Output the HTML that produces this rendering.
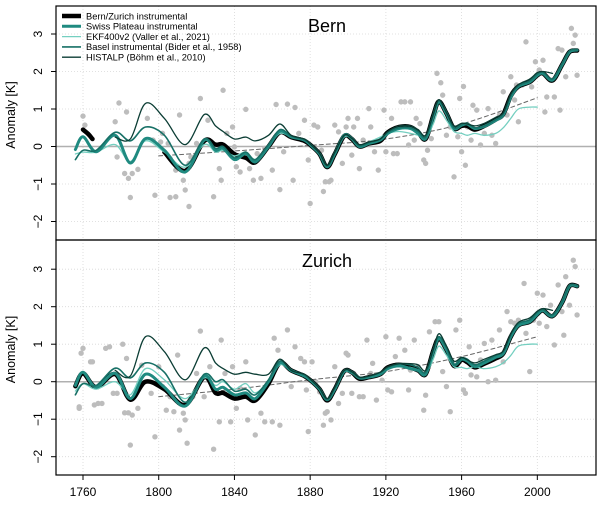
<!DOCTYPE html>
<html><head><meta charset="utf-8"><style>
body{margin:0;background:#fff;}
svg{display:block;font-family:"Liberation Sans",sans-serif;}
</style></head><body>
<svg id="chart" width="600" height="508" viewBox="0 0 600 508"></svg>
<script>
const gridYears=[1756,1760,1767,1777,1785,1793,1803,1814,1824,1830,1834,1840,1846,1851,1858,1864,1870,1877,1881,1885,1889,1893,1898,1902,1906,1911,1917,1921,1927,1933,1937,1941,1945,1948,1952,1956,1960,1963,1967,1972,1978,1982,1986,1990,1996,2000,2003,2008,2013,2017,2021];
const N=null;
// Bern series
const bernSwiss=[-0.08,0.26,-0.14,0.3,-0.44,0.21,-0.1,-0.68,0.17,-0.1,-0.05,-0.35,-0.19,-0.41,0,0.41,0.26,0.17,0,-0.2,-0.54,-0.19,0.3,0.21,0,0.08,0.17,0.35,0.48,0.48,0.35,0.21,0.8,1.19,0.88,0.48,0.57,0.6,0.48,0.54,0.7,0.84,1.32,1.6,1.72,1.9,1.95,1.77,2.17,2.52,2.57];
const bernBasel=[-0.35,-0.1,-0.1,0.38,0.15,0.52,0.3,-0.5,0.2,-0.05,0,-0.3,-0.15,-0.35,0.05,0.45,0.28,0.18,0.02,-0.18,-0.52,-0.17,0.3,0.22,0.02,0.1,0.2,0.38,0.5,0.5,0.4,0.25,0.85,1.22,0.9,0.5,0.58,0.62,0.5,0.55,0.72,0.86,1.35,1.62,1.75,1.93,1.98,1.8,2.2,2.55,2.58];
const bernHistalp=[N,N,N,0.25,0.2,1.15,0.75,0.05,0.85,0.55,0.4,0.2,0.25,0.15,0.3,0.6,0.3,0.2,0.02,-0.18,-0.5,-0.15,0.3,0.22,0.05,0.12,0.2,0.4,0.55,0.55,0.45,0.3,0.85,1.25,0.9,0.55,0.62,0.6,0.55,0.62,0.78,0.9,1.4,1.65,1.8,1.97,2.0,1.95,N,N,N];
const bernEkf=[-0.2,-0.15,-0.15,0.05,-0.4,0.15,-0.15,-0.55,0.05,-0.15,-0.1,-0.25,-0.15,-0.35,0,0.35,0.25,0.15,0,-0.2,-0.52,-0.2,0.25,0.2,0.02,0.12,0.25,0.35,0.4,0.35,0.3,0.2,0.6,0.95,0.7,0.4,0.35,0.3,0.35,0.3,0.35,0.5,0.75,1.0,1.05,1.05,N,N,N,N,N];
const bernBlack=[N,N,N,N,N,N,-0.15,-0.65,0.15,0.05,0.05,-0.2,-0.3,-0.42,0,0.38,0.25,0.15,0,-0.2,-0.55,-0.2,0.28,0.2,0,0.08,0.15,0.38,0.52,0.52,0.38,0.2,0.82,1.2,0.88,0.48,0.55,0.55,0.45,0.55,0.72,0.86,1.35,1.6,1.72,1.9,1.95,1.76,2.17,2.52,2.56];
const bernBlackEarlyYears=[1760,1763,1765];
const bernBlackEarly=[0.45,0.32,0.2];
const trendYears=[1800,1840,1880,1920,1960,2000];
const bernTrend=[-0.25,-0.12,0.03,0.2,0.6,1.3];
// Zurich series
const zurSwiss=[-0.1,0.25,-0.15,0.22,-0.45,0.2,-0.15,-0.65,0.15,-0.2,-0.15,-0.35,-0.3,-0.45,0,0.5,0.3,0.15,0,-0.2,-0.48,-0.2,0.28,0.25,0.1,0.12,0.2,0.35,0.42,0.35,0.3,0.2,0.8,1.15,0.85,0.45,0.6,0.55,0.4,0.5,0.65,0.75,1.2,1.5,1.6,1.8,1.9,1.75,2.1,2.55,2.55];
const zurBasel=[-0.35,-0.05,-0.1,0.36,0.1,0.5,0.25,-0.55,0.2,0.0,0.05,-0.25,-0.2,-0.35,0.05,0.55,0.32,0.18,0.02,-0.18,-0.48,-0.17,0.3,0.25,0.1,0.14,0.25,0.38,0.48,0.45,0.38,0.25,0.85,1.2,0.9,0.45,0.62,0.6,0.45,0.55,0.7,0.8,1.25,1.55,1.65,1.85,1.92,1.78,2.12,2.57,2.56];
const zurHistalp=[N,N,N,0.3,0.15,1.2,0.8,0.05,0.9,0.5,0.35,0.2,0.25,0.2,0.2,0.6,0.3,0.2,0.02,-0.18,-0.45,-0.15,0.3,0.27,0.12,0.15,0.25,0.4,0.48,0.48,0.45,0.3,0.85,1.28,0.95,0.55,0.65,0.58,0.5,0.6,0.72,0.82,1.28,1.58,1.7,1.88,1.95,1.9,N,N,N];
const zurEkf=[-0.25,-0.05,-0.2,0.0,-0.35,0.35,0.05,-0.45,0.1,-0.1,0.0,-0.2,-0.05,-0.3,0.0,0.45,0.28,0.15,0.0,-0.2,-0.48,-0.2,0.25,0.22,0.08,0.14,0.22,0.35,0.4,0.38,0.32,0.2,0.6,0.95,0.7,0.4,0.38,0.35,0.4,0.35,0.4,0.5,0.7,0.95,1.0,1.0,N,N,N,N,N];
const zurBlack=[-0.12,0.22,-0.15,0.2,-0.48,0.0,-0.2,-0.62,0.12,-0.3,-0.3,-0.45,-0.4,-0.5,-0.05,0.5,0.3,0.15,0,-0.2,-0.5,-0.2,0.28,0.25,0.08,0.12,0.2,0.38,0.45,0.38,0.3,0.2,0.82,1.15,0.85,0.42,0.58,0.52,0.38,0.48,0.62,0.75,1.2,1.5,1.6,1.8,1.9,1.75,2.1,2.55,2.55];
const zurTrend=[-0.4,-0.2,0.05,0.27,0.67,1.2];
// Annual dots
const bernDotYears=[1760,1761,1777,1778,1779,1782,1783,1784,1785,1786,1789,1794,1797,1798,1801,1802,1805,1806,1806,1809,1809,1811,1812,1813,1814,1816,1816,1817,1820,1822,1826,1828,1829,1832,1833,1834,1836,1838,1839,1840,1841,1843,1846,1848,1850,1852,1854,1856,1860,1862,1864,1866,1868,1871,1872,1874,1877,1879,1880,1882,1884,1886,1887,1888,1890,1891,1893,1895,1897,1899,1900,1902,1903,1905,1906,1908,1911,1912,1914,1916,1919,1920,1923,1924,1926,1928,1930,1932,1933,1935,1936,1938,1940,1941,1942,1944,1947,1949,1950,1952,1954,1956,1958,1959,1960,1961,1962,1963,1965,1966,1968,1970,1972,1974,1976,1978,1980,1982,1984,1986,1988,1989,1990,1992,1994,1997,1999,2001,2003,2004,2005,2007,2009,2011,2012,2013,2015,2018,2019,2020,2021];
const bernDotVals=[0.81,0.57,0.66,-0.28,1.16,-0.72,0.92,-0.85,-1.36,-0.72,-0.61,0.75,0.17,-1.3,0.12,0.35,0.08,-0.32,-1.36,-1.34,-0.63,0.84,-0.63,-0.9,-1.16,-1.6,-0.45,-0.28,0.08,1.28,0.7,0.08,-1.34,-0.59,-0.9,1.5,0.35,-0.19,0.52,-0.01,-0.54,-0.68,0.99,-0.59,-0.9,-0.19,-0.85,-0.05,-0.63,1.12,-1.15,-0.14,1.13,-0.9,1.04,0.35,0.7,-0.36,-1.52,0.57,0.52,-0.1,-1.2,-0.94,-0.94,-0.9,0.57,0.39,-0.45,0.52,0.75,-0.23,0.52,0.75,-0.59,0.17,1.01,0.52,-0.14,-0.63,0.97,-0.14,0.75,-0.19,-0.19,1.19,1.19,0.04,1.19,0.17,0.75,0.61,-0.36,-0.45,-0.1,0.21,1.95,1.7,1.37,0.3,0.52,-0.81,0.26,1.28,-0.14,1.6,-0.5,0.52,0.17,1.1,0.97,0.04,0.35,1.01,0.3,0.08,0.84,1.46,0.84,1.86,1.24,1.64,0.66,1.64,2.79,1.59,2.26,2.04,2.3,0.92,1.32,1.77,1.32,2.61,0.97,2.57,1.86,3.15,2.75,2.97,1.9];
const zurDotYears=[1758,1758,1759,1760,1764,1765,1766,1768,1770,1772,1774,1776,1778,1781,1782,1783,1784,1785,1786,1789,1791,1796,1798,1800,1802,1804,1806,1808,1810,1811,1813,1814,1815,1818,1820,1822,1824,1827,1829,1832,1833,1835,1838,1839,1841,1843,1846,1847,1851,1854,1856,1860,1861,1863,1864,1868,1870,1872,1875,1877,1878,1879,1881,1883,1885,1887,1888,1889,1891,1893,1895,1897,1899,1900,1902,1903,1906,1908,1910,1912,1913,1915,1918,1920,1921,1923,1925,1927,1930,1932,1933,1935,1937,1940,1941,1943,1946,1948,1950,1952,1954,1957,1959,1961,1962,1964,1965,1968,1970,1972,1974,1976,1978,1980,1982,1984,1986,1988,1990,1993,1994,1996,1998,2000,2001,2003,2005,2007,2009,2011,2013,2014,2015,2017,2019,2020,2021];
const zurDotVals=[-0.67,-0.71,0.76,0.89,0.53,0.53,-0.62,-0.58,-0.58,0.89,0.93,-0.31,-0.31,1.0,-0.83,0.62,-0.83,-1.69,-0.89,-0.71,0.44,-0.31,-1.47,0.4,-0.13,-0.76,-0.4,-0.8,0.71,-1.29,-0.84,-1.02,-1.64,-0.4,0.22,1.35,-0.4,0.4,-1.8,-1.07,1.11,0.22,-1.07,0.4,-0.71,-0.18,0.53,-1.02,-1.42,-0.84,-1.07,-1.07,1.16,0.84,-1.16,1.38,-0.13,0.93,0.62,0.53,-0.22,-1.33,0.53,0,-0.27,-1.16,-0.84,-0.8,-1.02,0.4,-0.58,-0.31,0.76,0.71,-0.31,0.22,-0.4,-0.4,1.11,0.22,0.49,-0.49,0.04,1.2,-0.22,-0.27,0.67,1.16,0.84,-0.22,0.31,1.11,0.4,-0.76,-0.36,1.33,1.6,1.6,0.27,-0.13,-0.8,1.38,1.64,-0.22,-0.31,0.93,0.18,0.13,0.58,1.02,0,1.11,0.04,1.38,0.53,1.87,1.6,1.56,1.64,2.62,1.29,0.27,1.64,2.36,1.56,2.31,1.47,2.04,0.98,2.58,1.87,1.24,2.8,2.04,3.24,3.07,1.78];
const xTicks=[1760,1800,1840,1880,1920,1960,2000];
const yTicks=[-2,-1,0,1,2,3];
const legendLabels=["Bern/Zurich instrumental","Swiss Plateau instrumental","EKF400v2 (Valler et al., 2021)","Basel instrumental (Bider et al., 1958)","HISTALP (Böhm et al., 2010)"];

const NS="http://www.w3.org/2000/svg";
const svg=document.getElementById('chart');
const X0=56,X1=596;
const xs=y=>83+(y-1760)*1.893;
function mk(tag,attrs,parent){const e=document.createElementNS(NS,tag);for(const k in attrs)e.setAttribute(k,attrs[k]);(parent||svg).appendChild(e);return e;}
function smoothPath(pts){
  if(pts.length<2)return '';
  let d='M'+pts[0][0].toFixed(1)+','+pts[0][1].toFixed(1);
  for(let i=0;i<pts.length-1;i++){
    const p0=pts[i-1]||pts[i],p1=pts[i],p2=pts[i+1],p3=pts[i+2]||p2;
    const c1=[p1[0]+(p2[0]-p0[0])/6,p1[1]+(p2[1]-p0[1])/6];
    const c2=[p2[0]-(p3[0]-p1[0])/6,p2[1]-(p3[1]-p1[1])/6];
    d+='C'+c1[0].toFixed(1)+','+c1[1].toFixed(1)+' '+c2[0].toFixed(1)+','+c2[1].toFixed(1)+' '+p2[0].toFixed(1)+','+p2[1].toFixed(1);
  }
  return d;
}
function drawSeries(g,years,vals,ys,style,name){
  let seg=[];const segs=[];
  for(let i=0;i<years.length;i++){
    if(vals[i]===null){if(seg.length)segs.push(seg);seg=[];}
    else seg.push([xs(years[i]),ys(vals[i])]);
  }
  if(seg.length)segs.push(seg);
  segs.forEach(s=>{
    const p=mk('path',Object.assign({d:smoothPath(s),fill:'none','stroke-linecap':'round','stroke-linejoin':'round'},style),g);
    
    
  });
}
function panel(cfg){
  const {top,bottom,zero,title,titleY,swiss,basel,histalp,ekf,black,blackEarly,trend,dotYears,dotVals,showX,legend,pname}=cfg;
  const ys=v=>zero-v*37.5;
  const g=mk('g',{});
  
  
  const clipId='clip-'+pname;
  const cp=mk('clipPath',{id:clipId},g);mk('rect',{x:X0,y:top,width:X1-X0,height:bottom-top},cp);
  // grid
  xTicks.forEach(t=>{const l=mk('line',{x1:xs(t),x2:xs(t),y1:top,y2:bottom,stroke:'#d8d8d8','stroke-dasharray':'1,2','stroke-width':0.8},g);
    });
  yTicks.forEach(t=>{if(t===0)return;const l=mk('line',{x1:X0,x2:X1,y1:ys(t),y2:ys(t),stroke:'#d8d8d8','stroke-dasharray':'1,2','stroke-width':0.8},g);
    });
  const zl=mk('line',{x1:X0,x2:X1,y1:ys(0),y2:ys(0),stroke:'#b0b0b0','stroke-width':1.5},g);
  
  const d=mk('g',{'clip-path':'url(#'+clipId+')'},g);
  dotYears.forEach((y,i)=>{const c=mk('circle',{cx:xs(y),cy:ys(dotVals[i]),r:2.7,fill:'#bdbdbd'},d);
    });
  drawSeries(d,trendYears,trend,ys,{stroke:'#666','stroke-width':1,'stroke-dasharray':'4,3'},'trend-line');
  drawSeries(d,gridYears,black,ys,{stroke:'#000','stroke-width':4.5},'bern-zurich-instrumental-line');
  if(blackEarly)drawSeries(d,bernBlackEarlyYears,blackEarly,ys,{stroke:'#000','stroke-width':4.5},'bern-zurich-instrumental-line');
  drawSeries(d,gridYears,ekf,ys,{stroke:'#74cfc0','stroke-width':1.3},'ekf400v2-line');
  drawSeries(d,gridYears,swiss,ys,{stroke:'#1f8a80','stroke-width':3},'swiss-plateau-line');
  drawSeries(d,gridYears,basel,ys,{stroke:'#177066','stroke-width':1.6},'basel-instrumental-line');
  drawSeries(d,gridYears,histalp,ys,{stroke:'#0b3d34','stroke-width':1.3},'histalp-line');
  // frame
  const fr=mk('rect',{x:X0,y:top,width:X1-X0,height:bottom-top,fill:'none',stroke:'#000','stroke-width':1.2},g);
  
  // y ticks
  yTicks.forEach(t=>{mk('line',{x1:X0-5,x2:X0,y1:ys(t),y2:ys(t),stroke:'#000'},g);
    const tx=mk('text',{x:42,y:ys(t),'font-size':12,'text-anchor':'middle',transform:'rotate(-90 42 '+ys(t)+')'},g);
    tx.textContent=(t<0?'\u2212'+(-t):String(t));
    });
  const yl=mk('text',{x:15,y:(top+bottom)/2-8,'font-size':12.5,'text-anchor':'middle',transform:'rotate(-90 15 '+((top+bottom)/2-8)+')'},g);
  yl.textContent='Anomaly [K]';
  const tt=mk('text',{x:327,y:titleY,'font-size':18,'text-anchor':'middle'},g);
  tt.textContent=title;
  if(showX){xTicks.forEach(t=>{mk('line',{x1:xs(t),x2:xs(t),y1:bottom,y2:bottom+5,stroke:'#000'},g);
    const tx=mk('text',{x:xs(t),y:bottom+21,'font-size':12,'text-anchor':'middle'},g);tx.textContent=t;
    });}
  if(legend){
    const lg=mk('g',{},g);
    const styles=[['#000',4.5],['#1f8a80',3],['#74cfc0',1.3],['#177066',1.6],['#0b3d34',1.3]];
    legendLabels.forEach((lab,i)=>{const yy=16+i*10.3;
      const e=mk('g',{},lg);
      mk('line',{x1:62,x2:81,y1:yy,y2:yy,stroke:styles[i][0],'stroke-width':styles[i][1]},e);
      const tx=mk('text',{x:86,y:yy+3.3,'font-size':9.3},e);tx.textContent=lab;});
  }
}
panel({pname:'bern-panel',top:6,bottom:240,zero:146.5,title:'Bern',titleY:32,swiss:bernSwiss,basel:bernBasel,histalp:bernHistalp,ekf:bernEkf,black:bernBlack,blackEarly:bernBlackEarly,trend:bernTrend,dotYears:bernDotYears,dotVals:bernDotVals,showX:false,legend:true});
panel({pname:'zurich-panel',top:240,bottom:475,zero:381.7,title:'Zurich',titleY:267,swiss:zurSwiss,basel:zurBasel,histalp:zurHistalp,ekf:zurEkf,black:zurBlack,blackEarly:null,trend:zurTrend,dotYears:zurDotYears,dotVals:zurDotVals,showX:true,legend:false});
</script>
</body></html>
